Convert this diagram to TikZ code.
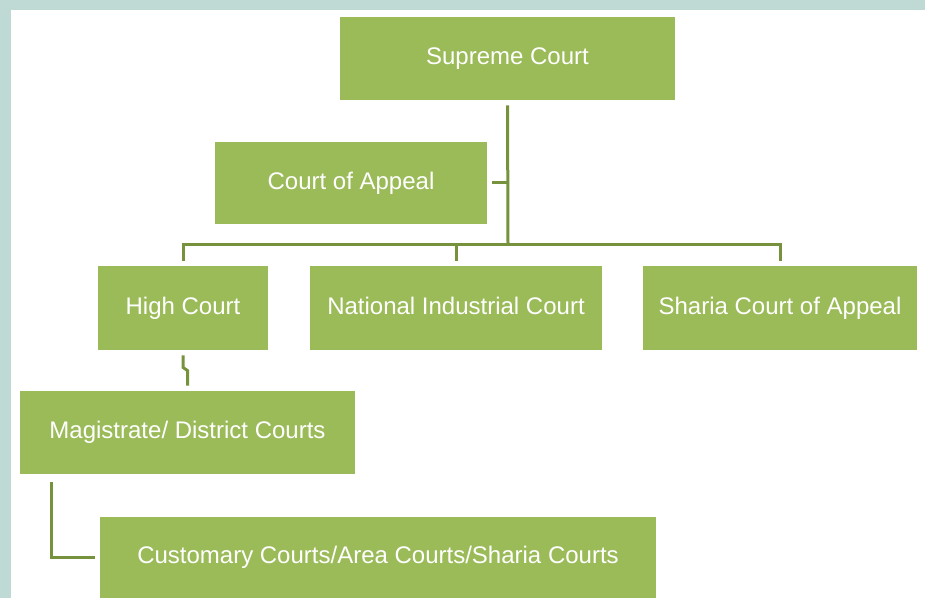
\documentclass[tikz,border=0pt]{standalone}
\usepackage{fontspec}
\setmainfont{Liberation Sans}
\usetikzlibrary{calc}

\definecolor{courtgreen}{RGB}{155,187,89}
\definecolor{linkgreen}{RGB}{118,146,60}
\definecolor{frameteal}{RGB}{191,217,213}

\tikzset{
  court/.style={fill=courtgreen, text=white, inner sep=0pt, text height=8.6pt, text depth=2.4pt, font=\fontsize{12}{14}\selectfont},
  link/.style={draw=linkgreen, line width=1.5pt, shorten <=2.5pt, shorten >=2.5pt}
}

\begin{document}
\begin{tikzpicture}[x=0.5pt,y=-0.5pt]
  \fill[frameteal] (0,0) rectangle (925,598);
  \fill[white] (11,10) rectangle (925,598);
  \useasboundingbox (0,0) rectangle (925,598);

  % courts
  \node[court, minimum width=167.5pt, minimum height=41.5pt] (supreme) at (507.5,58.5) {Supreme Court};
  \node[court, minimum width=136pt, minimum height=41pt] (appeal) at (351,183) {Court of Appeal};
  \node[court, minimum width=85pt, minimum height=42pt] (high) at (183,308) {High Court};
  \node[court, minimum width=146pt, minimum height=42pt] (industrial) at (456,308) {National Industrial Court};
  \node[court, minimum width=137pt, minimum height=42pt] (sharia) at (780,308) {Sharia Court of Appeal};
  \node[court, minimum width=167.5pt, minimum height=41.5pt] (magistrate) at (187.5,432.5) {Magistrate/ District Courts};
  \node[court, minimum width=278pt, minimum height=40.5pt] (customary) at (378,557.5) {Customary Courts/Area Courts/Sharia Courts};

  \coordinate (bus) at (508,245);

  % connectors
  \draw[link, shorten >=0pt] (supreme.south) -- (bus);
  \draw[link] (high.north) |- (bus) -| (sharia.north);
  \draw[link, shorten >=0pt] (industrial.north) -- (industrial.north |- bus);
  \draw[link, shorten >=0pt] (appeal.east) -- (appeal.east -| bus);
  \draw[link] (high.south) -- ++(0,17) -- ($(magistrate.north)+(0,-20)$) -- (magistrate.north);
  \draw[link, shorten <=4pt] ($(magistrate.south west)+(32,0)$) |- (customary.west);
\end{tikzpicture}
\end{document}
